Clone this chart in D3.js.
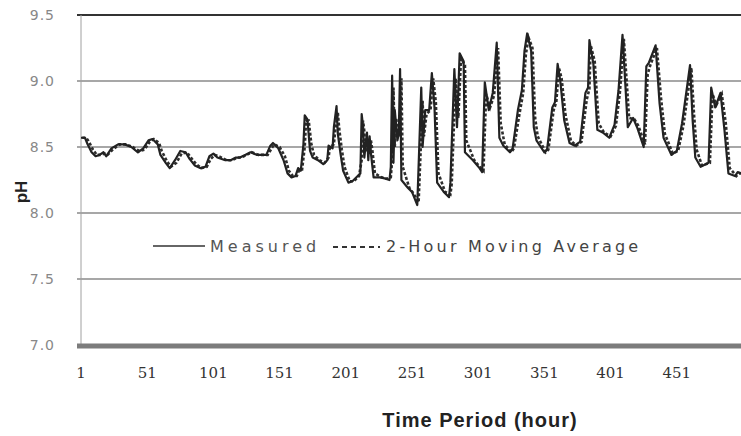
<!DOCTYPE html>
<html>
<head>
<meta charset="utf-8">
<script src="https://cdn.jsdelivr.net/npm/d3@7"></script>
<style>
  html, body { margin: 0; padding: 0; background: #fff; }
  svg { display: block; }
</style>
</head>
<body>
<svg id="chart" width="741" height="436"></svg>
<script>
// ---- data ----
const measuredHours = [1,4,6,9,12,15,18,20,24,29,34,39,44,48,52,55,59,61,65,68,72,76,80,83,87,91,95,98,101,104,110,114,118,121,125,129,134,141,144,146,150,154,157,160,163,165,167,169,170,172,174,176,180,184,187,188,191,192,194,195,197,199,203,206,210,212,213,214,215,217,218,219,220,222,227,231,234,235,236,237,238,240,241,242,243,248,251,255,258,259,261,264,266,268,270,275,279,280,283,285,287,290,291,297,302,304,306,309,312,315,317,320,325,327,331,334,336,338,341,343,345,351,353,357,359,361,363,366,370,374,378,382,384,385,388,391,395,400,404,407,410,414,418,421,426,428,430,435,438,441,447,451,455,461,463,465,469,475,477,480,484,487,490,495,497,500];
const measuredPH = [8.57,8.57,8.52,8.46,8.43,8.44,8.46,8.43,8.49,8.52,8.52,8.50,8.46,8.49,8.55,8.56,8.52,8.44,8.38,8.34,8.40,8.47,8.46,8.41,8.36,8.34,8.35,8.43,8.45,8.42,8.40,8.40,8.42,8.42,8.44,8.46,8.44,8.44,8.51,8.53,8.49,8.40,8.30,8.27,8.28,8.34,8.32,8.52,8.74,8.71,8.47,8.42,8.40,8.37,8.40,8.51,8.49,8.65,8.81,8.60,8.45,8.32,8.23,8.24,8.28,8.30,8.75,8.66,8.42,8.61,8.40,8.58,8.45,8.27,8.27,8.26,8.25,8.35,9.04,8.38,8.78,8.55,8.60,9.09,8.25,8.19,8.16,8.06,8.95,8.50,8.78,8.78,9.06,8.80,8.23,8.16,8.12,8.23,9.09,8.65,9.21,9.15,8.46,8.40,8.34,8.31,8.99,8.78,8.91,9.29,8.57,8.51,8.46,8.49,8.78,8.93,9.23,9.36,9.23,8.65,8.55,8.46,8.48,8.80,8.84,9.13,9.00,8.70,8.53,8.51,8.54,8.91,8.95,9.31,9.13,8.63,8.61,8.57,8.67,8.93,9.35,8.65,8.72,8.65,8.50,9.11,9.14,9.27,8.83,8.57,8.44,8.47,8.68,9.12,8.70,8.42,8.35,8.38,8.95,8.80,8.91,8.63,8.30,8.28,8.31,8.30];

const maHours = [2,5,7,10,13,16,19,21,25,30,35,40,45,49,53,56,60,62,66,69,73,77,81,84,88,92,96,99,102,105,111,115,119,122,126,130,135,142,145,147,151,155,158,161,164,166,168,170,171,173,175,177,181,185,188,189,192,193,195,196,198,200,204,207,211,213,214,215,216,218,219,220,221,223,228,232,235,236,237,238,239,241,242,243,244,249,252,256,259,260,262,265,267,269,271,276,280,281,284,286,288,291,292,298,303,305,307,310,313,316,318,321,326,328,332,335,337,339,342,344,346,352,354,358,360,362,364,367,371,375,379,383,385,386,389,392,396,401,405,408,411,415,419,422,427,429,431,436,439,442,448,452,456,462,464,466,470,476,478,481,485,488,491,496,498,501];
const maPH = [8.57,8.57,8.54,8.48,8.44,8.44,8.45,8.44,8.48,8.52,8.52,8.50,8.47,8.48,8.54,8.56,8.53,8.47,8.39,8.35,8.38,8.45,8.46,8.42,8.37,8.34,8.35,8.41,8.44,8.43,8.40,8.40,8.42,8.42,8.44,8.46,8.44,8.44,8.49,8.52,8.50,8.43,8.32,8.28,8.28,8.33,8.33,8.50,8.70,8.70,8.52,8.44,8.40,8.38,8.42,8.50,8.52,8.62,8.76,8.64,8.48,8.35,8.24,8.24,8.28,8.40,8.70,8.62,8.46,8.56,8.45,8.55,8.48,8.30,8.27,8.26,8.27,8.40,8.95,8.50,8.72,8.58,8.65,9.02,8.35,8.19,8.15,8.08,8.85,8.58,8.75,8.78,9.02,8.84,8.30,8.16,8.14,8.22,9.02,8.72,9.17,9.12,8.55,8.40,8.34,8.32,8.90,8.80,8.89,9.25,8.68,8.52,8.46,8.49,8.74,8.91,9.20,9.33,9.25,8.72,8.58,8.46,8.48,8.78,8.84,9.10,9.02,8.74,8.55,8.51,8.54,8.86,8.94,9.27,9.15,8.68,8.61,8.58,8.66,8.91,9.32,8.72,8.71,8.66,8.52,9.05,9.12,9.25,8.88,8.60,8.45,8.47,8.66,9.10,8.75,8.48,8.36,8.38,8.90,8.82,8.90,8.68,8.34,8.28,8.30,8.30];

const yTicks = [7.0, 7.5, 8.0, 8.5, 9.0, 9.5];
const xTickLabels = [1, 51, 101, 151, 201, 251, 301, 351, 401, 451];
const seriesNames = ["Measured", "2-Hour Moving Average"];
const xTitle = "Time Period (hour)";
const yTitle = "pH";

// ---- layout ----
const svg = d3.select("#chart");
const plotLeft = 81, plotRight = 741, plotTop = 15, plotBottom = 345;

const x = d3.scaleLinear().domain([1, 499.5]).range([plotLeft, plotRight]);
const y = d3.scaleLinear().domain([7.0, 9.5]).range([plotBottom, plotTop]);

svg.append("defs").append("clipPath").attr("id", "plotclip")
  .append("rect").attr("x", plotLeft).attr("y", 0).attr("width", plotRight - plotLeft).attr("height", 436);

// gridlines
svg.append("g").selectAll("line")
  .data(yTicks.filter(v => v > 7.0 && v < 9.5))
  .join("line")
  .attr("x1", plotLeft - 4).attr("x2", plotRight)
  .attr("y1", d => y(d)).attr("y2", d => y(d))
  .attr("stroke", "#8a8a8a").attr("stroke-width", 1.3);

// top border line at 9.5
svg.append("line")
  .attr("x1", plotLeft - 4).attr("x2", plotRight)
  .attr("y1", y(9.5)).attr("y2", y(9.5))
  .attr("stroke", "#333").attr("stroke-width", 2.2);

// left axis
svg.append("line")
  .attr("x1", plotLeft).attr("x2", plotLeft)
  .attr("y1", y(9.5)).attr("y2", y(7.0))
  .attr("stroke", "#a0a0a0").attr("stroke-width", 1);

// y tick labels
svg.append("g").selectAll("text")
  .data(yTicks)
  .join("text")
  .attr("x", 55).attr("y", d => y(d))
  .attr("dy", "0.35em")
  .attr("text-anchor", "end")
  .attr("font-family", "DejaVu Sans, sans-serif")
  .attr("font-size", 14)
  .attr("letter-spacing", 1)
  .attr("fill", "#888")
  .text(d => d.toFixed(1));

// lines
const lineGen = d3.line().x(d => x(d[0])).y(d => y(d[1])).curve(d3.curveLinear);
const measured = measuredHours.map((h, i) => [h, measuredPH[i]]);
const ma = maHours.map((h, i) => [h, maPH[i]]);

const plot = svg.append("g").attr("clip-path", "url(#plotclip)");
plot.append("path")
  .datum(ma)
  .attr("d", lineGen)
  .attr("fill", "none")
  .attr("stroke", "#2e2e2e")
  .attr("stroke-width", 2.6)
  .attr("stroke-dasharray", "3,2");
plot.append("path")
  .datum(measured)
  .attr("d", lineGen)
  .attr("fill", "none")
  .attr("stroke", "#222")
  .attr("stroke-width", 2.2)
  .attr("stroke-linejoin", "round");

// bottom axis band at 7.0
svg.append("line")
  .attr("x1", plotLeft - 4).attr("x2", plotRight)
  .attr("y1", y(7.0) + 1).attr("y2", y(7.0) + 1)
  .attr("stroke", "#7c7c7c").attr("stroke-width", 5);

// x tick labels
svg.append("g").selectAll("text")
  .data(xTickLabels)
  .join("text")
  .attr("x", d => x(d))
  .attr("y", 378)
  .attr("text-anchor", "middle")
  .attr("font-family", "DejaVu Serif, serif")
  .attr("font-size", 15)
  .attr("fill", "#333")
  .text(d => d);

// axis titles
svg.append("text")
  .attr("x", 480).attr("y", 427)
  .attr("text-anchor", "middle")
  .attr("font-family", "Liberation Sans, Arial, sans-serif")
  .attr("font-weight", "bold")
  .attr("font-size", 20)
  .attr("letter-spacing", 1)
  .attr("fill", "#222")
  .text(xTitle);

svg.append("text")
  .attr("transform", "translate(27,192) rotate(-90)")
  .attr("text-anchor", "middle")
  .attr("font-family", "Liberation Sans, Arial, sans-serif")
  .attr("font-weight", "bold")
  .attr("font-size", 17)
  .attr("fill", "#222")
  .text(yTitle);

// legend
const lg = svg.append("g");
lg.append("line").attr("x1", 153).attr("x2", 205).attr("y1", 246).attr("y2", 246)
  .attr("stroke", "#333").attr("stroke-width", 1.6);
lg.append("text").attr("x", 210).attr("y", 252)
  .attr("font-family", "DejaVu Sans, sans-serif").attr("font-size", 16)
  .attr("letter-spacing", 4).attr("fill", "#555").text(seriesNames[0]);
lg.append("line").attr("x1", 333).attr("x2", 380).attr("y1", 247).attr("y2", 247)
  .attr("stroke", "#333").attr("stroke-width", 1.8).attr("stroke-dasharray", "5,4");
lg.append("text").attr("x", 386).attr("y", 252)
  .attr("font-family", "DejaVu Sans, sans-serif").attr("font-size", 16)
  .attr("letter-spacing", 3.2).attr("fill", "#444").text(seriesNames[1]);
</script>
</body>
</html>
